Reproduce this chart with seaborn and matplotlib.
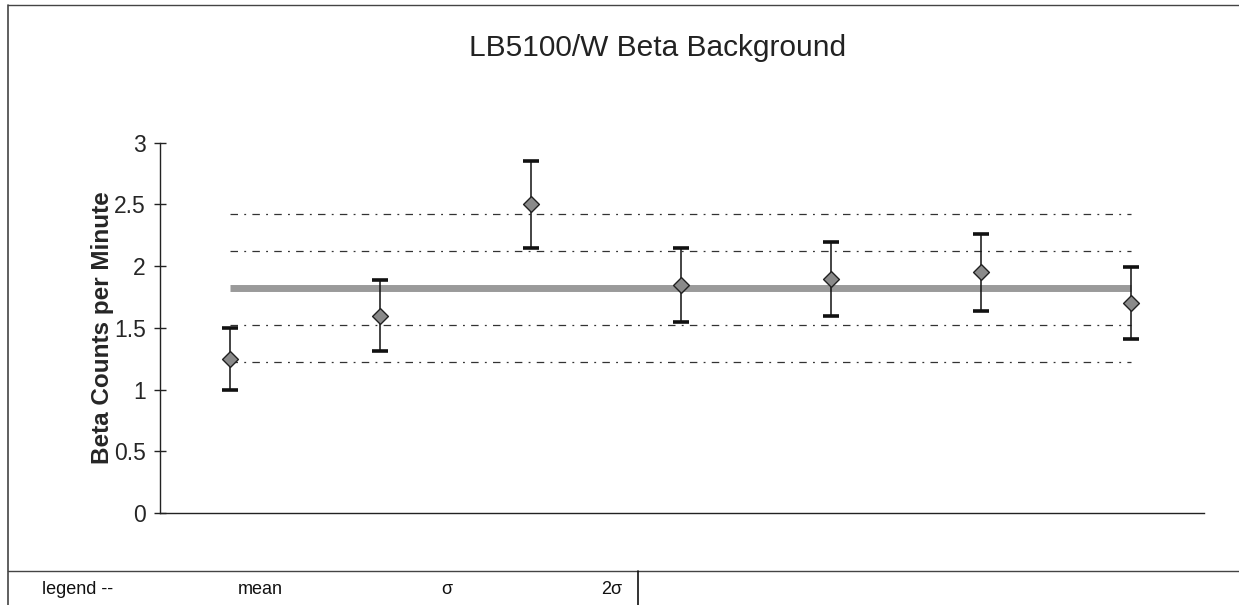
import matplotlib
matplotlib.use("Agg")
import matplotlib.pyplot as plt
import seaborn as sns
import pandas as pd
from matplotlib.lines import Line2D

# Background counts for successive checks
runs = [1, 2, 3, 4, 5, 6, 7]
counts = [1.25, 1.60, 2.50, 1.85, 1.90, 1.95, 1.70]
errors = [0.25, 0.29, 0.35, 0.30, 0.30, 0.31, 0.29]

# Control limits
mean_cpm = 1.82
sigma_cpm = 0.30

y_ticks = [0, 0.5, 1, 1.5, 2, 2.5, 3]
y_tick_labels = ["0", "0.5", "1", "1.5", "2", "2.5", "3"]
title = "LB5100/W Beta Background"
y_label = "Beta Counts per Minute"
legend_items = ["legend --", "mean", "\u03c3", "2\u03c3"]

sns.set_theme(style="white")
plt.rcParams["font.family"] = ["Liberation Sans", "DejaVu Sans"]

df = pd.DataFrame({"run": runs, "cpm": counts, "err": errors})

fig = plt.figure(figsize=(12.39, 6.05), dpi=100)
ax = fig.add_axes([0.129, 0.152, 0.843, 0.612])

x0, x1 = min(runs), max(runs)

# mean line and sigma bands
ax.hlines(mean_cpm, x0, x1, color="#9a9a9a", lw=5, zorder=1)
for k in (1, 2):
    for sgn in (-1, 1):
        ax.hlines(mean_cpm + sgn * k * sigma_cpm, x0, x1, color="#333333",
                  lw=0.9, linestyles=(0, (6, 5, 1.5, 5)), zorder=1)

# error bars
ax.errorbar(df["run"], df["cpm"], yerr=df["err"], fmt="none", ecolor="#111111",
            elinewidth=1.1, capsize=5.5, capthick=2.6, zorder=2)

# data points
sns.scatterplot(data=df, x="run", y="cpm", ax=ax, marker="D", s=65,
                color="#8a8a8a", edgecolor="#222222", linewidth=1.0, zorder=3)

ax.set_xlim(x0 - 0.47, x1 + 0.49)
ax.set_ylim(0, 3)
ax.set_yticks(y_ticks)
ax.set_yticklabels(y_tick_labels, fontsize=16.5)
ax.set_xticks([])
ax.set_xlabel("")
ax.set_ylabel(y_label, fontsize=17.5, fontweight="bold", labelpad=0)

for side in ("top", "right"):
    ax.spines[side].set_visible(False)
for side in ("left", "bottom"):
    ax.spines[side].set_color("#222222")
    ax.spines[side].set_linewidth(1.0)
ax.tick_params(axis="y", direction="inout", length=8, width=1.0, color="#222222",
               pad=6, left=True)

fig.text(0.531, 0.92, title, ha="center", va="center", fontsize=21.5, color="#222222")

# outer frame and legend row
frame_color = "#444444"
fig.add_artist(Line2D([0.0065, 1.0], [0.992, 0.992], color=frame_color, lw=1.0))
fig.add_artist(Line2D([0.0065, 0.0065], [0.0, 0.992], color=frame_color, lw=1.2))
fig.add_artist(Line2D([0.0065, 1.0], [0.057, 0.057], color=frame_color, lw=1.0))
fig.add_artist(Line2D([0.515, 0.515], [0.0, 0.057], color="#111111", lw=1.2))

legend_x = [0.063, 0.210, 0.361, 0.494]
for lx, txt in zip(legend_x, legend_items):
    fig.text(lx, 0.025, txt, ha="center", va="center", fontsize=13, color="#111111")

fig.savefig("out.png", dpi=100)
